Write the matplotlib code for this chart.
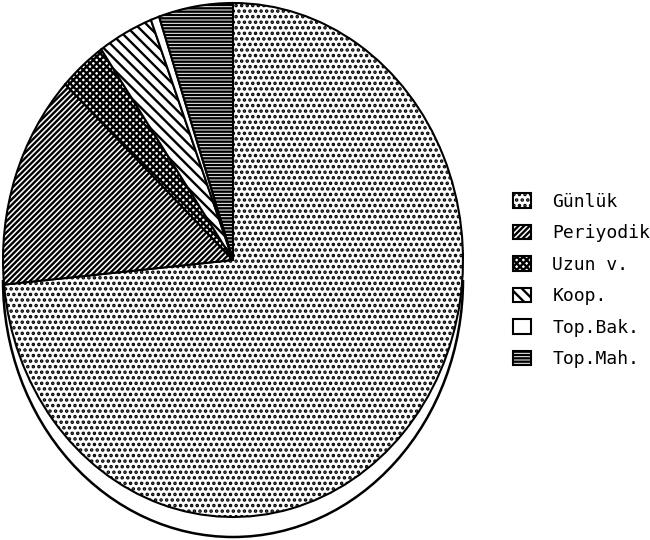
import numpy as np
import matplotlib
matplotlib.use("Agg")
import matplotlib.pyplot as plt
from matplotlib.patches import Arc

# pasta dilimleri (yuzde, okunan degerler)
etiketler = ["Günlük", "Periyodik", "Uzun v.", "Koop.", "Top.Bak.", "Top.Mah."]
degerler = [73.4, 13.5, 3.3, 3.9, 0.6, 5.2]
desenler = ["...", "//////", "xxxxx", "\\\\\\", "", "-----"]

plt.rcParams['hatch.linewidth'] = 1.7

fig = plt.figure(figsize=(6.5, 5.4), dpi=100)

# pasta eliptik (yatay yari cap 230 px, dikey 257 px)
ax = fig.add_axes([3/650, 23/540, 460/650, 514/540])
wedges, _ = ax.pie(degerler, startangle=90, counterclock=False,
                   colors=["white"]*len(degerler),
                   wedgeprops=dict(edgecolor="black", linewidth=1.5))
for w, h in zip(wedges, desenler):
    w.set_hatch(h)
ax.set_aspect('auto')
ax.set_xlim(-1, 1)
ax.set_ylim(-1, 1)
ax.axis('off')

# alt kenar (3B kalinlik cizgisi)
kalinlik = 20/257
rim = Arc((0, -kalinlik), 2, 2, theta1=180, theta2=360,
          color="black", linewidth=1.8, clip_on=False)
ax.add_patch(rim)

leg = fig.legend(wedges, etiketler, loc="upper left",
                 bbox_to_anchor=(500/650, 1 - 180/540),
                 frameon=False, prop=dict(family="DejaVu Sans Mono", size=13),
                 handlelength=1.0, handleheight=0.85, labelspacing=0.75,
                 handletextpad=1.2, borderpad=0.2)

fig.savefig("out.png", dpi=100)
